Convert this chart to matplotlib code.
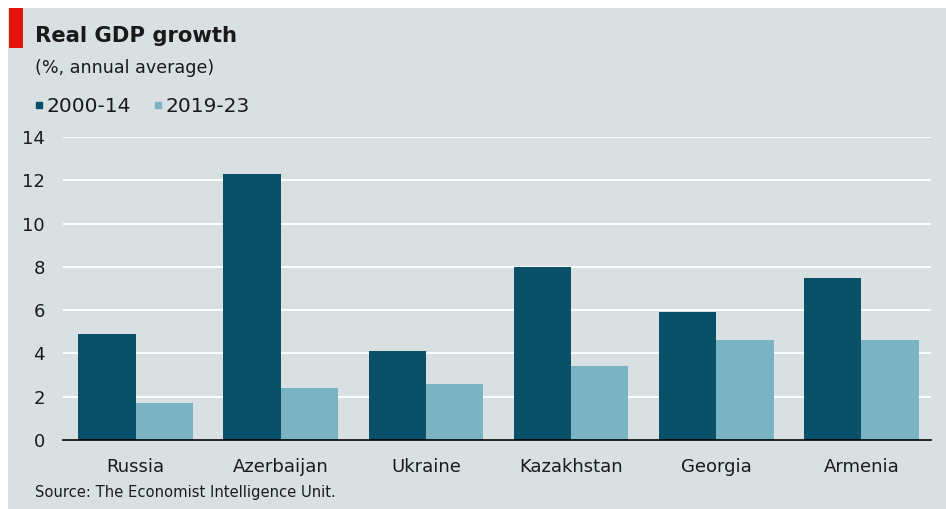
import matplotlib.pyplot as plt
from matplotlib.lines import Line2D
from matplotlib.patches import Rectangle
import numpy as np

countries = ['Russia', 'Azerbaijan', 'Ukraine', 'Kazakhstan', 'Georgia', 'Armenia']
growth_2000_14 = [4.9, 12.3, 4.1, 8.0, 5.9, 7.5]
growth_2019_23 = [1.7, 2.4, 2.6, 3.4, 4.6, 4.6]
series_labels = ['2000-14', '2019-23']

bg = '#d8e0e2'
dark = '#0b5069'
light = '#7ab3c1'
text_col = '#1a1a1a'

W, H = 946, 509
fig = plt.figure(figsize=(W / 100, H / 100), dpi=100)
fig.patch.set_facecolor('white')
fig.patches.append(Rectangle((8 / W, 0), 1, (H - 8) / H, transform=fig.transFigure,
                             facecolor=bg, edgecolor='none', zorder=-2))
# red tab by the title
fig.patches.append(Rectangle((9 / W, 1 - 48 / H), 14 / W, 40 / H, transform=fig.transFigure,
                             facecolor='#e3120b', edgecolor='none', zorder=-1))

ax = fig.add_axes([63 / W, 69 / H, (931 - 63) / W, (440 - 137) / H])
ax.set_facecolor('none')

x = np.arange(len(countries))
w = 0.395
ax.bar(x - w / 2, growth_2000_14, width=w, color=dark, zorder=3)
ax.bar(x + w / 2, growth_2019_23, width=w, color=light, zorder=3)

ax.set_ylim(0, 14)
ax.set_xlim(-0.5, 5.48)
ax.set_yticks(range(0, 15, 2))
ax.yaxis.grid(True, color='white', linewidth=1.4, zorder=1)
ax.set_axisbelow(True)
for s in ['top', 'right', 'left']:
    ax.spines[s].set_visible(False)
ax.spines['bottom'].set_color('black')
ax.spines['bottom'].set_linewidth(1.2)
ax.spines['bottom'].set_zorder(4)

ax.set_xticks(x)
ax.set_xticklabels(countries, fontsize=13, color=text_col)
ax.tick_params(axis='x', length=0, pad=13)
ax.tick_params(axis='y', length=0, pad=13, labelsize=13, labelcolor=text_col)

fig.text(35 / W, 1 - 36 / H, 'Real GDP growth', fontsize=15.2, fontweight='bold',
         color=text_col, va='center', ha='left')
fig.text(35 / W, 1 - 68 / H, '(%, annual average)', fontsize=12.6, color=text_col,
         va='center', ha='left')

handles = [Line2D([], [], marker='s', linestyle='none', markersize=5, color=c)
           for c in (dark, light)]
fig.legend(handles, series_labels, loc='center left', bbox_to_anchor=(35 / W, 1 - 107 / H),
           ncol=2, frameon=False, fontsize=14.5, handlelength=0.35, handletextpad=0.2,
           columnspacing=1.2, borderaxespad=0, borderpad=0, labelcolor=text_col)

fig.text(35 / W, 1 - 493 / H, 'Source: The Economist Intelligence Unit.', fontsize=10.6,
         color=text_col, va='center', ha='left')

fig.savefig('out.png', dpi=100, facecolor=fig.get_facecolor())
